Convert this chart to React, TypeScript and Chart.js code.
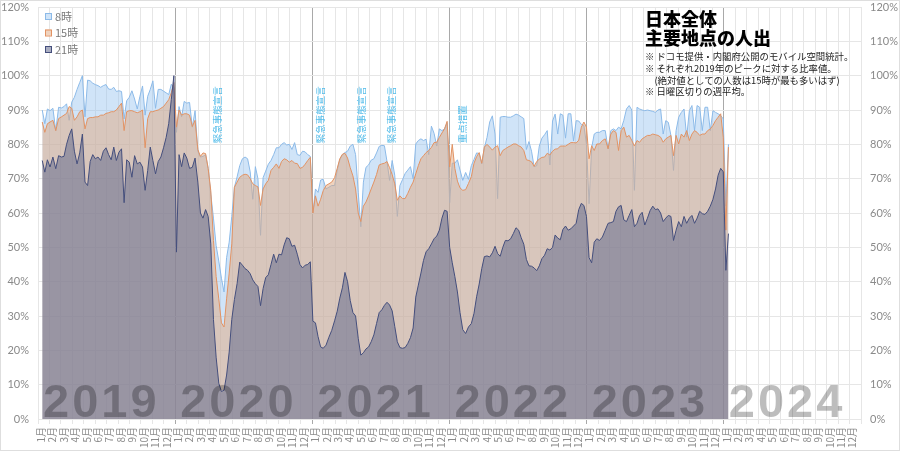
import React, { useEffect, useRef } from "react";
import { Chart, registerables } from "chart.js";

Chart.register(...registerables);

// Weekly averages (week ending Saturday), share of each slot's 2019 peak, in %
// first week ends 2019-01-12
const FIRST_YEAR = 2019;
const firstWeekEnd = [2019, 0, 12];

const h8 = [
  // 2019
  90, 86, 90.3, 89.8, 90.5, 84, 90.8, 90.6, 91, 91.8,
  87, 92.3, 93.7, 96, 98, 100, 88, 98.7, 98.5, 97.8,
  97.4, 97.1, 96.6, 97.1, 97.4, 96.1, 96, 96.6, 95.4, 95.6,
  95.4, 87.4, 92.7, 93.7, 95.6, 93.2, 90.3, 94, 97, 88.5,
  94, 96, 98.5, 90.5, 96, 96, 95.5, 95, 94.5, 97.5,
  96.5,
  // 2020
  83.5, 91, 88, 92.5, 92, 92.2, 85, 89.8, 78, 76.3,
  76.5, 77, 73, 65.5, 58.5, 50.5, 46, 41, 37, 47,
  51.5, 59, 67.5, 70.5, 73.8, 75.8, 76.3, 75.8, 72, 64,
  73.5, 70, 53.5, 70.3, 72.2, 74.2, 75.3, 77, 79, 79,
  80, 80.5, 79.8, 80, 78.5, 80.5, 77, 76.8, 78, 77.8,
  77, 76.5,
  // 2021
  60, 67, 66, 69.6, 69.8, 67, 67.5, 68, 68, 72.5,
  75.5, 77, 77.6, 78, 79.5, 80, 77, 66, 56, 69,
  73.3, 74, 75.4, 75.8, 77.5, 79.4, 79.7, 79.6, 75, 69.5,
  75.3, 71, 59, 68, 69.7, 71.5, 72.5, 73.5, 70, 80.1,
  81.1, 81.6, 81.1, 81.5, 77, 85.3, 83.2, 79.5, 84.5, 84,
  84.5, 86.3,
  // 2022
  63, 74.5, 74.5, 75.5, 72.5, 69.5, 71.8, 69.8, 73.8, 75.6,
  77.5, 77.3, 74.3, 79, 82, 86.5, 88.3, 83, 64.2, 87.9,
  88.1, 88.1, 87.9, 87.9, 88.3, 88.8, 88.5, 88, 87.5, 78.5,
  80.8, 78, 73.5, 73.8, 79.5, 81.8, 82.8, 84, 74, 86.8,
  88.8, 83, 88.9, 88.5, 81.8, 88.9, 88.9, 81, 86.9, 86.8,
  85.8, 85.5, 80,
  // 2023
  62.7, 79, 83, 83.5, 83.5, 84, 84, 78.7, 84, 84.5,
  84, 85, 84.5, 87, 90.3, 91.3, 90, 66.6, 90.8, 90.3,
  90, 89.8, 90, 89.8, 89.6, 89.3, 90, 90.3, 83, 86.9,
  86.4, 82.6, 72.4, 84, 87.9, 89.3, 90.3, 82.1, 89.8, 91.3,
  84, 91.3, 90.8, 84, 90.8, 90.8, 84, 89.8, 89.3, 88.9,
  88.4, 87.4,
  // 2024
  62, 80,
];

const h15 = [
  // 2019
  86.5, 83.5, 86, 86.5, 87, 84, 87.5, 88, 88.5, 89,
  91, 90.5, 87, 88, 89.5, 90, 84.5, 87.5, 87.8, 87.8,
  88, 88, 88.5, 88.5, 89, 89.2, 89.5, 89.5, 90, 91,
  92, 84, 89.5, 89.8, 89.8, 89.5, 89.2, 89.5, 90, 79,
  87.5, 89.5, 89.5, 89.8, 90, 90.5, 91, 92, 93, 95,
  98,
  // 2020
  85, 90, 88.5, 88.9, 88.9, 88.5, 85.2, 87, 78.5, 76.5,
  77.5, 77.3, 73, 66.5, 52, 41.5, 35, 28, 26.8, 35,
  42.5, 51, 67.5, 69, 70.4, 71, 71.3, 71.1, 70, 68.5,
  68, 67.6, 62.2, 67, 68.5, 69.5, 72.4, 73.3, 74.3, 73,
  75, 75.8, 75.5, 74.8, 75.3, 74.5, 74.4, 73, 73.3, 74.2,
  75.3, 76.2,
  // 2021
  60, 65, 62, 64, 66.5, 68, 68.5, 69, 70.3, 73,
  75.8, 77.1, 77.4, 76, 73.2, 70.8, 67, 60, 57.5, 62,
  63.2, 65, 67, 69, 71.2, 74, 74.3, 74.5, 75, 73.2,
  71.2, 68.5, 63.7, 65, 64.2, 64.2, 65.7, 67.5, 69, 71.4,
  73.8, 75.8, 76.7, 77.6, 78.2, 79.1, 80.5, 80.6, 82, 83.3,
  84.5, 86.7,
  // 2022
  73.4, 80, 73, 69.3, 67.3, 66.6, 66.8, 68.6, 70.6, 74.5,
  76.4, 77.6, 74.5, 79.2, 80, 79.2, 78.3, 79.2, 79.6, 76.7,
  78.2, 78.7, 79.2, 79.6, 80.1, 80.1, 79.6, 79.2, 78.2, 75.5,
  75.3, 74.9, 73.6, 75, 75.7, 76.2, 76.3, 77.4, 76.9, 78,
  78.6, 78.7, 79.5, 79.5, 79.5, 80, 80.5, 80.5, 80.4, 81.2,
  85, 86.5, 85,
  // 2023
  75.8, 79.6, 78.2, 80.1, 80.1, 81.1, 81.6, 78.7, 83, 84,
  83.5, 78.2, 84, 85, 82.1, 82.6, 81.1, 79.5, 81.1, 80.6,
  81.6, 82.1, 82.6, 82.6, 83, 82.8, 82.6, 82.1, 80.6, 81.6,
  82.1, 82.6, 76.7, 82.6, 80.1, 83, 82.1, 84, 81.1, 83,
  84, 83.5, 82.6, 83, 83, 84, 84.5, 85.5, 86.9, 87.9,
  88.9, 82,
  // 2024
  55, 79.2,
];

const h21 = [
  // 2019
  75.3, 71.9, 75.5, 73.4, 76.3, 72.9, 76.7, 76.3, 76.5, 80,
  82.6, 84.5, 78, 74.3, 77.5, 83, 69, 68, 75, 77,
  75.8, 76.3, 75.3, 78, 79, 77, 75.5, 79.2, 75.3, 77.7,
  78.7, 63, 75.5, 74.8, 70.4, 76.7, 74.3, 74.8, 73.4, 66.6,
  72.4, 79.2, 75.3, 71.4, 75, 76.3, 79, 82, 86, 93,
  100,
  // 2020
  48.6, 77, 73.5, 77.5, 76, 73, 73.3, 76, 69, 60,
  58.5, 61, 59, 51, 29, 18, 10.4, 8, 8.4, 12.8,
  19.5, 29, 34.8, 39.4, 45.7, 44.8, 43.8, 43.3, 42.3, 40.5,
  39.4, 38.6, 33, 38, 41.2, 42, 45, 48, 45.5, 48,
  47.8, 50.7, 52.8, 52.5, 50.3, 50.6, 48, 45, 44, 44.8,
  45, 45.8,
  // 2021
  28.5, 28, 24, 21, 20.6, 21.5, 23.8, 25.8, 28.6, 31.4,
  35.2, 38.2, 42.7, 40, 34.5, 31, 30, 23.5, 18.6, 19.3,
  20.4, 21, 22.5, 24.5, 27.8, 31, 31.8, 33.1, 34, 33.2,
  31.5, 27, 22.5, 20.8, 20.6, 20.8, 22, 23.7, 26.5, 35.5,
  39, 42.5, 46.2, 48.7, 49.6, 51, 52.5, 53.3, 55, 58.5,
  60.8, 60.5,
  // 2022
  50, 45.5, 41.5, 37, 31, 26, 24.9, 26.8, 27.8, 30.8,
  35.6, 39.3, 43.8, 47.3, 47.5, 47.2, 48.4, 50.3, 48.2, 47.4,
  50, 52, 51.9, 52.5, 54, 55.7, 55, 52.8, 50.9, 46.5,
  44.6, 44.5, 44, 43.2, 44.6, 46.7, 47.7, 49.6, 49.2, 50,
  53.6, 52.7, 52.2, 55.2, 56.2, 55, 55.4, 56.2, 57, 61,
  62.8, 62.2, 59,
  // 2023
  47, 45.5, 51.5, 52.5, 52, 53, 55, 57, 57.2, 57.5,
  60.5, 61.8, 62.2, 58, 57.5, 59.3, 61, 56, 57, 59.3,
  60.2, 56.5, 58.5, 60.7, 62, 61, 61.2, 60, 57.5, 58.5,
  59.3, 59, 52, 55, 57.5, 56, 59, 57, 58.5, 59.3,
  57, 58.5, 60.5, 59.8, 59.6, 60.5, 62, 64, 67, 71,
  73, 72,
  // 2024
  43.3, 54,
];

const seriesLabels = ["8時", "15時", "21時"];
const years = ["2019", "2020", "2021", "2022", "2023", "2024"];
const monthLabels = ["1月", "2月", "3月", "4月", "5月", "6月", "7月", "8月", "9月", "10月", "11月", "12月"];
const measures = [
  { date: "2020-04-07", label: "緊急事態宣言" },
  { date: "2021-01-08", label: "緊急事態宣言" },
  { date: "2021-04-25", label: "緊急事態宣言" },
  { date: "2021-07-12", label: "緊急事態宣言" },
  { date: "2022-01-21", label: "重点措置" },
];
const titleLines = ["日本全体", "主要地点の人出"];
const noteLines = [
  "※ ドコモ提供・内閣府公開のモバイル空間統計。",
  "※ それぞれ2019年のピークに対する比率値。",
  "　(絶対値としての人数は15時が最も多いはず)",
  "※ 日曜区切りの週平均。",
];

const lineColors = ["rgb(140,186,232)", "rgb(226,146,98)", "rgb(68,78,124)"];
const fillColors = ["rgba(150,195,240,0.45)", "rgba(224,168,128,0.5)", "rgba(100,107,142,0.55)"];
const JP = '"Noto Sans CJK JP", sans-serif';
const NUM = 'Lato, "Noto Sans CJK JP", sans-serif';

// position in months since Jan 2019
function monthPos(d: Date) {
  const days = new Date(d.getFullYear(), d.getMonth() + 1, 0).getDate();
  return (d.getFullYear() - FIRST_YEAR) * 12 + d.getMonth() + (d.getDate() - 0.5) / days;
}
function parseDate(s: string) {
  const [y, m, d] = s.split("-").map(Number);
  return new Date(y, m - 1, d);
}
function toPoints(values: number[]) {
  return values.map((v, i) => ({
    x: monthPos(new Date(firstWeekEnd[0], firstWeekEnd[1], firstWeekEnd[2] + 7 * i)),
    y: v,
  }));
}

const overlayPlugin = {
  id: "overlay",
  afterDatasetsDraw(chart: any) {
    const { ctx, chartArea, scales } = chart;
    const xs = scales.x;
    const ys = scales.y;

    // big year labels
    ctx.save();
    ctx.font = 'bold 47px "Liberation Sans", Arial, sans-serif';
    ctx.fillStyle = "rgba(0,0,0,0.26)";
    ctx.textAlign = "left";
    ctx.textBaseline = "alphabetic";
    (ctx as any).letterSpacing = "3px";
    years.forEach((yr, k) => {
      ctx.fillText(yr, xs.getPixelForValue(k * 12) + 5, ys.getPixelForValue(0) - 2);
    });
    ctx.restore();

    // emergency measures, vertical text
    ctx.save();
    ctx.font = "9.5px " + JP;
    ctx.fillStyle = "#55bdea";
    measures.forEach((m) => {
      const px = xs.getPixelForValue(monthPos(parseDate(m.date)));
      ctx.save();
      ctx.translate(px + 1, ys.getPixelForValue(80) - 1);
      ctx.rotate(-Math.PI / 2);
      ctx.textAlign = "left";
      ctx.textBaseline = "top";
      ctx.fillText(m.label, 0, 0);
      ctx.restore();
    });
    ctx.restore();

    // legend, stacked top-left
    ctx.save();
    ctx.font = "11px " + JP;
    ctx.textAlign = "left";
    ctx.textBaseline = "middle";
    seriesLabels.forEach((lab, k) => {
      const bx = chartArea.left + 7;
      const by = chartArea.top + 6 + k * 16.5;
      ctx.fillStyle = "#fff";
      ctx.fillRect(bx, by, 6, 6);
      ctx.fillStyle = fillColors[k];
      ctx.fillRect(bx, by, 6, 6);
      ctx.strokeStyle = lineColors[k];
      ctx.lineWidth = 1;
      ctx.strokeRect(bx + 0.5, by + 0.5, 6, 6);
      ctx.fillStyle = "#7a7a7a";
      ctx.fillText(lab, bx + 10, by + 3.5);
    });
    ctx.restore();
  },
};

const App = () => {
  const chartRef = useRef<HTMLCanvasElement | null>(null);

  useEffect(() => {
    const ctx = chartRef.current?.getContext("2d");
    if (!ctx) return;

    const yTicks = {
      stepSize: 10,
      padding: 9,
      color: "#8a8a8a",
      font: { size: 11, family: NUM },
      callback: (v: any) => v + "%",
    };
    const fitY = (w: number) => (s: any) => {
      s.width = w;
      s.paddingTop = 0;
      s.paddingBottom = 0;
    };

    let chartInstance = new Chart(ctx, {
      type: "line",
      data: {
        datasets: [h8, h15, h21].map((vals, k) => ({
          label: seriesLabels[k],
          data: toPoints(vals),
          borderColor: lineColors[k],
          backgroundColor: fillColors[k],
          borderWidth: 1,
          fill: "origin",
          pointRadius: 0,
          tension: 0,
          order: 3 - k,
        })),
      },
      options: {
        responsive: false,
        animation: false,
        layout: { padding: { top: 7 } },
        plugins: {
          legend: { display: false },
          tooltip: { enabled: false },
        },
        scales: {
          x: {
            type: "linear",
            min: 0,
            max: 72,
            afterFit: (s: any) => {
              s.height = 32;
              s.paddingLeft = 0;
              s.paddingRight = 0;
            },
            ticks: {
              stepSize: 1,
              autoSkip: false,
              minRotation: 90,
              maxRotation: 90,
              labelOffset: 3,
              padding: 3,
              color: "#8a8a8a",
              font: { size: 10, family: JP },
              callback: (v: any) => {
                const n = Number(v);
                return n >= 0 && n < 72 && Number.isInteger(n) ? monthLabels[n % 12] : "";
              },
            },
            grid: {
              color: (c: any) => {
                const v = c.tick ? c.tick.value : -1;
                return v > 0 && v < 72 && v % 12 === 0 ? "#a9a9a9" : "#e6e6e6";
              },
              tickLength: 5,
            },
            border: { display: false },
          },
          y: {
            position: "left",
            min: 0,
            max: 120,
            afterFit: fitY(38),
            ticks: yTicks,
            grid: { color: "#e6e6e6", drawTicks: false },
            border: { display: false },
          },
          y2: {
            position: "right",
            min: 0,
            max: 120,
            afterFit: fitY(39),
            ticks: yTicks,
            grid: { display: false, drawTicks: false },
            border: { display: false },
          },
        },
      },
      plugins: [overlayPlugin],
    } as any);

    return () => {
      chartInstance.destroy();
    };
  }, []);

  return (
    <div style={{ position: "absolute", left: 0, top: 0, width: 900, height: 451, background: "#fff" }}>
      <canvas ref={chartRef} width={900} height={451} style={{ position: "absolute", left: 0, top: 0 }} />
      <div
        style={{
          position: "absolute",
          left: 645,
          top: 9,
          fontFamily: JP,
          fontWeight: 900,
          fontSize: 18,
          lineHeight: "19px",
          color: "#000",
          whiteSpace: "nowrap",
        }}
      >
        {titleLines.map((t) => (
          <div key={t}>{t}</div>
        ))}
      </div>
      <div
        style={{
          position: "absolute",
          left: 645,
          top: 51,
          fontFamily: JP,
          fontSize: 9.4,
          lineHeight: "11.8px",
          color: "#222",
          whiteSpace: "nowrap",
        }}
      >
        {noteLines.map((t) => (
          <div key={t}>{t}</div>
        ))}
      </div>
      <div
        style={{
          position: "absolute",
          left: 0,
          top: 0,
          width: 900,
          height: 451,
          boxSizing: "border-box",
          border: "1px solid #dedede",
          pointerEvents: "none",
        }}
      />
    </div>
  );
};

export default App;
